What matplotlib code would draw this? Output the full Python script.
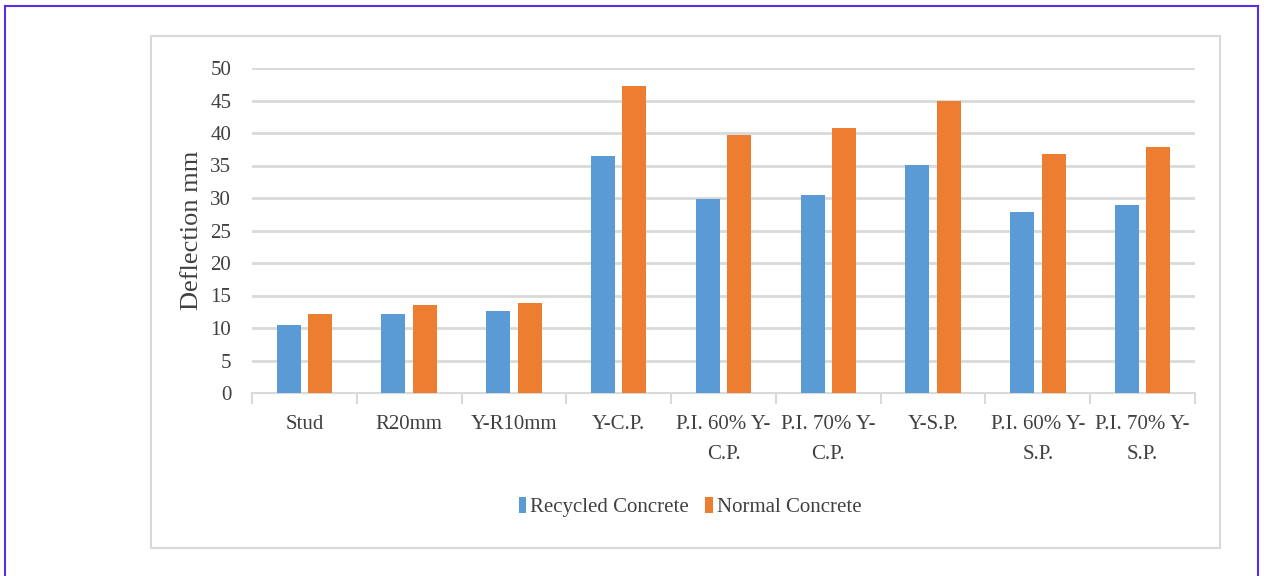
import matplotlib
matplotlib.use("Agg")
import matplotlib.pyplot as plt
from matplotlib.lines import Line2D
from matplotlib.patches import Rectangle
import numpy as np

categories = ["Stud", "R20mm", "Y-R10mm", "Y-C.P.", "P.I. 60% Y-\nC.P.", "P.I. 70% Y-\nC.P.",
              "Y-S.P.", "P.I. 60% Y-\nS.P.", "P.I. 70% Y-\nS.P."]
recycled = [10.5, 12.1, 12.6, 36.4, 29.8, 30.4, 35.1, 27.9, 29.0]
normal = [12.1, 13.6, 13.8, 47.3, 39.7, 40.8, 45.0, 36.8, 37.8]
yticks = list(range(0, 51, 5))

plt.rcParams['font.family'] = ['Liberation Serif', 'DejaVu Serif']
W, H = 1264, 576
fig = plt.figure(figsize=(W/100, H/100), dpi=100)

def fx(x): return x / W
def fy(y): return 1 - y / H

# outer purple border
purple = '#5A2EE6'
fig.add_artist(Line2D([fx(5), fx(5)], [fy(6), fy(580)], color=purple, lw=1.5, transform=fig.transFigure))
fig.add_artist(Line2D([fx(5), fx(1258)], [fy(6), fy(6)], color=purple, lw=1.5, transform=fig.transFigure))
fig.add_artist(Line2D([fx(1258), fx(1258)], [fy(6), fy(580)], color=purple, lw=1.5, transform=fig.transFigure))
# chart area box
fig.add_artist(Rectangle((fx(151), fy(548)), fx(1220) - fx(151), fy(36) - fy(548),
                         fill=False, edgecolor='#D9D9D9', lw=1.5, transform=fig.transFigure))

ax = fig.add_axes([fx(252), fy(393), fx(1195) - fx(252), fy(68) - fy(393)])
x = np.arange(len(categories))
bw = 0.23
off = 0.15
ax.bar(x - off, recycled, bw, color='#5B9BD5', label='Recycled Concrete', zorder=3)
ax.bar(x + off, normal, bw, color='#ED7D31', label='Normal Concrete', zorder=3)

ax.set_xlim(-0.5, len(categories) - 0.5)
ax.set_ylim(0, 50)
ax.set_yticks(yticks)
ax.set_yticklabels([str(t) for t in yticks], fontsize=15, color='#404040')
ax.yaxis.grid(True, color='#D9D9D9', lw=2, zorder=0)
ax.tick_params(axis='y', length=0, pad=15)
for s in ['top', 'right', 'left']:
    ax.spines[s].set_visible(False)
ax.spines['bottom'].set_color('#D9D9D9')
ax.spines['bottom'].set_linewidth(1.5)

ax.set_xticks(x)
ax.set_xticklabels(categories, fontsize=15, color='#404040', linespacing=1.75)
ax.tick_params(axis='x', length=0, pad=16)
# category separators
ax.set_xticks(np.arange(-0.5, len(categories), 1), minor=True)
ax.tick_params(axis='x', which='minor', length=8, color='#D9D9D9', width=1.5)

ax.set_ylabel('Deflection mm', fontsize=19, color='#404040')
ax.yaxis.set_label_coords((203 - 252) / 943, 0.5)

leg = fig.legend(loc='center', bbox_to_anchor=(fx(690), fy(507)), ncol=2, frameon=False,
                 fontsize=15, handlelength=0.35, handleheight=0.8, handletextpad=0.2, columnspacing=0.8)
for t in leg.get_texts():
    t.set_color('#404040')

fig.savefig('out.png', dpi=100)
